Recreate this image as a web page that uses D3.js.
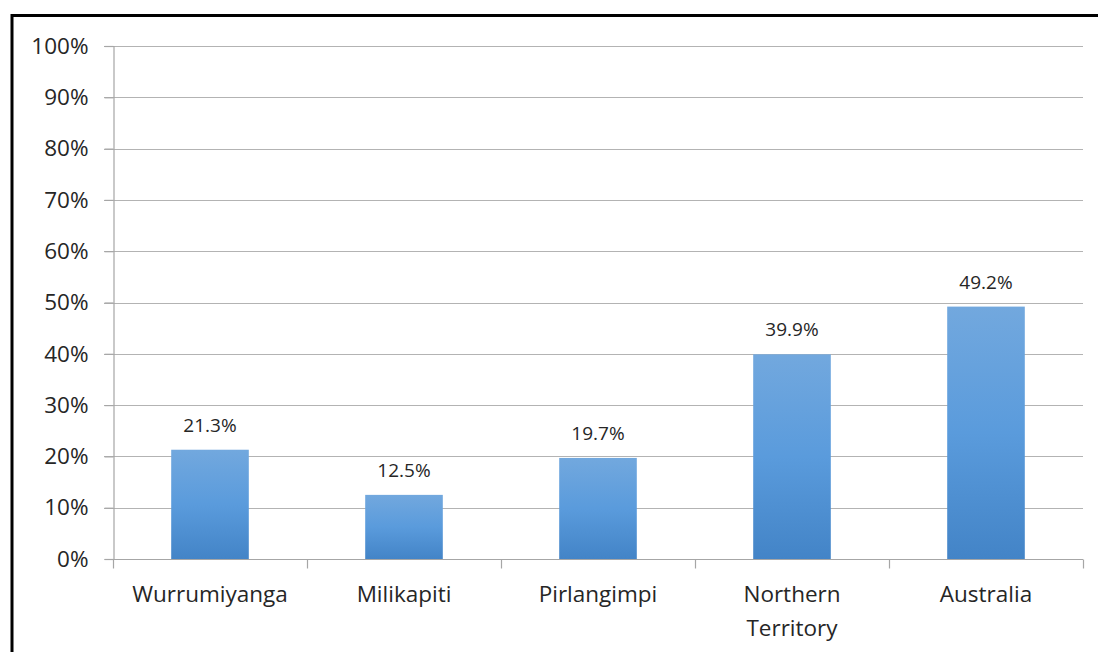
<!DOCTYPE html>
<html><head><meta charset="utf-8">
<script src="https://cdn.jsdelivr.net/npm/d3@7"></script>
<style>body{margin:0;background:#fff;}svg{display:block;}</style>
</head><body>
<svg id="c" width="1098" height="652"></svg>
<script>
const categories = ["Wurrumiyanga", "Milikapiti", "Pirlangimpi", "Northern Territory", "Australia"];
const values = [21.3, 12.5, 19.7, 39.9, 49.2];
const yTicks = [0, 10, 20, 30, 40, 50, 60, 70, 80, 90, 100];

const svg = d3.select("#c");
const font = "'Open Sans', sans-serif";
const pLeft = 113, pRight = 1083, pTop = 46, pBottom = 559;

// frame
svg.append("rect").attr("x", 12).attr("y", 15.5).attr("width", 1100).attr("height", 700)
  .attr("fill", "none").attr("stroke", "#000").attr("stroke-width", 3);

const x = d3.scaleBand().domain(categories).range([pLeft, pRight]).paddingInner(0.6).paddingOuter(0.3);
const xb = d3.scaleBand().domain(categories).range([pLeft, pRight]);
const y = d3.scaleLinear().domain([0, 100]).range([pBottom, pTop]);

const defs = svg.append("defs");
const g = defs.append("linearGradient").attr("id", "bg").attr("x1", 0).attr("y1", 0).attr("x2", 0).attr("y2", 1);
g.append("stop").attr("offset", "0%").attr("stop-color", "#72a8de");
g.append("stop").attr("offset", "50%").attr("stop-color", "#5a9bdc");
g.append("stop").attr("offset", "100%").attr("stop-color", "#4384c7");

// gridlines
svg.append("g").selectAll("line").data(yTicks.filter(d => d > 0)).join("line")
  .attr("x1", pLeft - 9).attr("x2", pRight).attr("y1", d => Math.round(y(d)) + 0.5).attr("y2", d => Math.round(y(d)) + 0.5)
  .attr("stroke", "#b3b3b3").attr("stroke-width", 1.2);

// y axis
const ya = svg.append("g").attr("transform", `translate(${pLeft + 0.5},0)`)
  .call(d3.axisLeft(y).tickValues(yTicks).tickSize(9).tickFormat(d => d + "%"));
ya.select(".domain").attr("stroke", "#a6a6a6").attr("stroke-width", 1.2);
ya.selectAll(".tick line").attr("stroke", "#a6a6a6").attr("stroke-width", 1.2);
ya.selectAll(".tick text").attr("font-family", font).attr("font-size", 22.5).attr("fill", "#262626").attr("x", -25);

// bars
svg.append("g").selectAll("rect").data(categories).join("rect")
  .attr("x", d => x(d)).attr("width", x.bandwidth())
  .attr("y", (d, i) => y(values[i])).attr("height", (d, i) => pBottom - y(values[i]))
  .attr("fill", "url(#bg)");

// x axis
const xa = svg.append("g").attr("transform", `translate(0,${pBottom + 0.5})`);
xa.append("line").attr("x1", pLeft).attr("x2", pRight).attr("stroke", "#a6a6a6").attr("stroke-width", 1.2);
const bounds = categories.map(c => xb(c)).concat([pRight]);
xa.selectAll("line.t").data(bounds).join("line").attr("class", "t")
  .attr("x1", d => Math.round(d) + 0.5).attr("x2", d => Math.round(d) + 0.5).attr("y1", 0).attr("y2", 9)
  .attr("stroke", "#a6a6a6").attr("stroke-width", 1.2);

const lines = ["Wurrumiyanga", "Milikapiti", "Pirlangimpi", "Northern\nTerritory", "Australia"];
svg.append("g").selectAll("text").data(categories).join("text")
  .attr("x", d => xb(d) + xb.bandwidth() / 2).attr("y", 602)
  .attr("text-anchor", "middle").attr("font-family", font).attr("font-size", 22.5).attr("fill", "#262626")
  .each(function (d, i) {
    const parts = lines[i].split("\n");
    d3.select(this).selectAll("tspan").data(parts).join("tspan")
      .attr("x", xb(d) + xb.bandwidth() / 2).attr("dy", (p, j) => j ? 34 : 0).text(p => p);
  });

// value labels
svg.append("g").selectAll("text").data(categories).join("text")
  .attr("x", d => x(d) + x.bandwidth() / 2).attr("y", (d, i) => y(values[i]) - 18)
  .attr("text-anchor", "middle").attr("font-family", font).attr("font-size", 19).attr("fill", "#262626")
  .text((d, i) => values[i].toFixed(1) + "%");
</script>
</body></html>
